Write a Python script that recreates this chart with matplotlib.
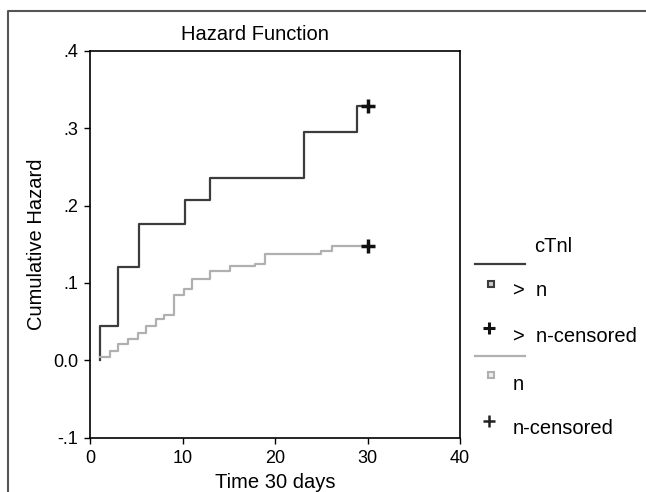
import matplotlib
matplotlib.use('Agg')
import matplotlib.pyplot as plt
from matplotlib.lines import Line2D

plt.rcParams['font.family'] = ['Liberation Sans', 'DejaVu Sans']

# cumulative hazard, cTnl > n
dark_times = [1.0, 1.0, 2.95, 5.25, 10.2, 12.9, 23.1, 28.9, 30.0]
dark_haz = [0.0, 0.045, 0.121, 0.176, 0.207, 0.236, 0.295, 0.328, 0.328]
# cumulative hazard, cTnl n
gray_times = [1.0, 2.1, 3.0, 4.1, 5.2, 6.0, 7.1, 8.0, 9.0, 10.1, 11.0,
              12.9, 15.1, 17.8, 18.9, 25.0, 26.2, 30.0]
gray_haz = [0.005, 0.012, 0.021, 0.028, 0.036, 0.044, 0.053, 0.059, 0.085,
            0.092, 0.105, 0.115, 0.122, 0.125, 0.138, 0.141, 0.148, 0.148]
censor_times = [30.0, 30.0]
censor_haz = [0.328, 0.148]

x_ticks = [0, 10, 20, 30, 40]
y_ticks = [-0.1, 0.0, 0.1, 0.2, 0.3, 0.4]
y_ticklabels = ['-.1', '0.0', '.1', '.2', '.3', '.4']

dark_col = '#3c3c3c'
gray_col = '#b0b0b0'

fig = plt.figure(figsize=(6.46, 4.92), dpi=100)
ax = fig.add_axes([0.140, 0.110, 0.572, 0.787])

ax.step(dark_times, dark_haz, where='post', color=dark_col, linewidth=1.6)
ax.step(gray_times, gray_haz, where='post', color=gray_col, linewidth=1.6)
ax.plot(censor_times, censor_haz, linestyle='none', marker='+', color='#111111',
        markersize=9.5, markeredgewidth=2.5)

ax.set_xlim(0, 40)
ax.set_ylim(-0.1, 0.4)
ax.set_xticks(x_ticks)
ax.set_yticks(y_ticks)
ax.set_yticklabels(y_ticklabels)
ax.tick_params(axis='both', labelsize=13, length=4, width=1, pad=5, direction='out')
for spine in ax.spines.values():
    spine.set_linewidth(1.2)
ax.set_xlabel('Time 30 days', fontsize=14.5, labelpad=4)
ax.set_ylabel('Cumulative Hazard', fontsize=14.5, labelpad=5)
ax.set_title('Hazard Function', fontsize=14.5, pad=8, x=0.445)

# legend drawn to the right of the axes
def fx(px):
    return px / 646.0

def fy(py):
    return 1 - py / 492.0

fs = 14.5
fig.text(fx(553), fy(246), 'cTnl', fontsize=fs, ha='center', va='center')
fig.add_artist(Line2D([fx(475), fx(525)], [fy(264), fy(264)], color=dark_col, linewidth=1.6))
fig.add_artist(Line2D([fx(491)], [fy(284)], marker='s', markersize=4.5, markerfacecolor='#cccccc',
                      markeredgecolor=dark_col, markeredgewidth=1.5, linestyle='none'))
fig.text(fx(513), fy(291), '>  n', fontsize=fs, ha='left', va='center')
fig.add_artist(Line2D([fx(489)], [fy(328)], marker='+', markersize=8, color='#111111',
                      markeredgewidth=2.2, linestyle='none'))
fig.text(fx(513), fy(336), '>  n-censored', fontsize=fs, ha='left', va='center')
fig.add_artist(Line2D([fx(475), fx(525)], [fy(356), fy(356)], color=gray_col, linewidth=1.6))
fig.add_artist(Line2D([fx(491)], [fy(375)], marker='s', markersize=4.5, markerfacecolor='#eeeeee',
                      markeredgecolor=gray_col, markeredgewidth=1.5, linestyle='none'))
fig.text(fx(513), fy(385), 'n', fontsize=fs, ha='left', va='center')
fig.add_artist(Line2D([fx(489)], [fy(421)], marker='+', markersize=8, color='#222222',
                      markeredgewidth=1.8, linestyle='none'))
fig.text(fx(513), fy(429), 'n-censored', fontsize=fs, ha='left', va='center')

# outer frame (top and left edges)
fig.add_artist(Line2D([fx(8), fx(8), 1.0], [0.0, fy(11), fy(11)], color='#555555', linewidth=1.5))

fig.savefig('out.png', dpi=100)
